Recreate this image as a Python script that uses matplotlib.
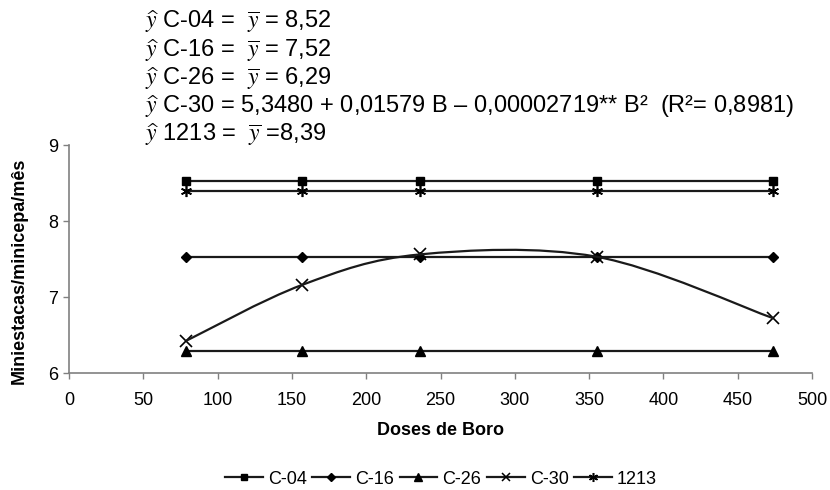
import matplotlib
matplotlib.use("Agg")
import matplotlib.pyplot as plt
from matplotlib.path import Path
from matplotlib.patches import PathPatch
from matplotlib.lines import Line2D
import numpy as np

plt.rcParams['font.family'] = ['Liberation Sans', 'DejaVu Sans']
plt.rcParams['mathtext.fontset'] = 'stix'

doses = [78.5, 157, 236, 355, 474]
c04 = [8.52, 8.52, 8.52, 8.52, 8.52]
c16 = [7.52, 7.52, 7.52, 7.52, 7.52]
c26 = [6.29, 6.29, 6.29, 6.29, 6.29]
c30 = [6.42, 7.16, 7.56, 7.53, 6.72]
s1213 = [8.39, 8.39, 8.39, 8.39, 8.39]

series_names = ["C-04", "C-16", "C-26", "C-30", "1213"]
equations = [
    r"$\widehat{y}$ C-04 =  $\overline{y}$ = 8,52",
    r"$\widehat{y}$ C-16 =  $\overline{y}$ = 7,52",
    r"$\widehat{y}$ C-26 =  $\overline{y}$ = 6,29",
    r"$\widehat{y}$ C-30 = 5,3480 + 0,01579 B – 0,00002719** B²  (R²= 0,8981)",
    r"$\widehat{y}$ 1213 =  $\overline{y}$ =8,39",
]
xticks = [0, 50, 100, 150, 200, 250, 300, 350, 400, 450, 500]
yticks = [6, 7, 8, 9]

fig = plt.figure(figsize=(8.3, 4.9), dpi=100)
ax = fig.add_axes([69/830, 1-373/490, (812-69)/830, (373-145)/490])

lc = '#1a1a1a'
lw = 1.6
ms = 7
ax.plot(doses, c04, color=lc, lw=lw, marker='s', ms=ms-1, mfc='black', mec='black', zorder=3)
ax.plot(doses, c16, color=lc, lw=lw, marker='D', ms=ms-2, mfc='black', mec='black', zorder=3)
ax.plot(doses, c26, color=lc, lw=lw, marker='^', ms=ms, mfc='black', mec='black', zorder=3)
ax.plot(doses, s1213, color=lc, lw=lw, marker=(6, 2, 0), ms=ms+1, mew=1.2, mec='black', zorder=3)

# C-30: markers + smoothed (Bezier) line through the points
ax.plot(doses, c30, ls='none', marker='x', ms=ms+1, mew=1.2, mec='black', zorder=4)
pts = np.array(list(zip(doses, c30)))
verts = [tuple(pts[0])]
codes = [Path.MOVETO]
n = len(pts)
for i in range(n - 1):
    p0 = pts[i - 1] if i > 0 else pts[i]
    p1 = pts[i]
    p2 = pts[i + 1]
    p3 = pts[i + 2] if i + 2 < n else pts[i + 1]
    c1 = p1 + (p2 - p0) / 6.0
    c2 = p2 - (p3 - p1) / 6.0
    verts += [tuple(c1), tuple(c2), tuple(p2)]
    codes += [Path.CURVE4] * 3
ax.add_patch(PathPatch(Path(verts, codes), fill=False, edgecolor=lc, lw=lw, zorder=4))

ax.set_xlim(0, 500)
ax.set_ylim(6, 9)
ax.set_xticks(xticks)
ax.set_yticks(yticks)
ax.tick_params(axis='both', colors='#808080', labelcolor='black', labelsize=13, length=4, width=1)
ax.tick_params(axis='x', pad=10)
ax.tick_params(axis='y', pad=4)
for s in ['top', 'right']:
    ax.spines[s].set_visible(False)
for s in ['left', 'bottom']:
    ax.spines[s].set_color('#808080')
    ax.spines[s].set_linewidth(1.2)

ax.set_xlabel("Doses de Boro", fontsize=13, fontweight='bold', va='center')
ax.xaxis.set_label_coords(0.5, (373-430)/228)
ax.set_ylabel("Miniestacas/minicepa/mês", fontsize=13, fontweight='bold', va='center')
ax.yaxis.set_label_coords((19-69)/743, (373-271)/228)

ys = [22, 51, 79, 107, 135]
for t, yp in zip(equations, ys):
    fig.text(145/830, 1 - yp/490, t, fontsize=17, va='center', ha='left')

handles = [
    Line2D([], [], color=lc, lw=lw, marker='s', ms=5, mfc='black', mec='black'),
    Line2D([], [], color=lc, lw=lw, marker='D', ms=4.5, mfc='black', mec='black'),
    Line2D([], [], color=lc, lw=lw, marker='^', ms=5.5, mfc='black', mec='black'),
    Line2D([], [], color=lc, lw=lw, marker='x', ms=6, mew=1.1, mec='black'),
    Line2D([], [], color=lc, lw=lw, marker=(6, 2, 0), ms=6.5, mew=1.1, mec='black'),
]
fig.legend(handles, series_names, loc='center', bbox_to_anchor=(441/830, 1 - 479/490),
           ncol=5, frameon=False, fontsize=13, handlelength=2.1, handletextpad=0.28,
           columnspacing=0.3, borderpad=0.1)

fig.savefig("out.png", dpi=100)
